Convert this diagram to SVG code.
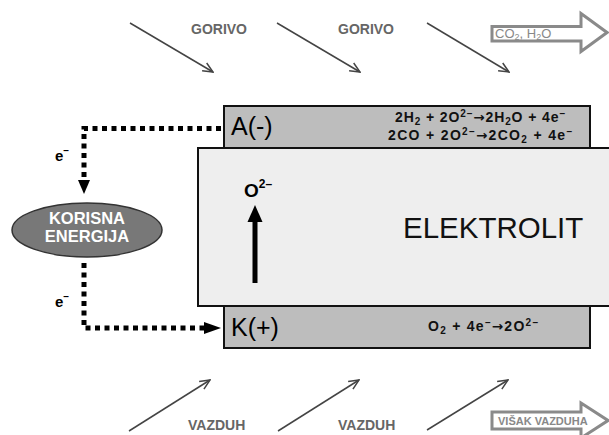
<svg xmlns="http://www.w3.org/2000/svg" width="609" height="435" viewBox="0 0 609 435">
<style>
.sans{font-family:"Liberation Sans",Arial,sans-serif}
.lbl{font-family:"Liberation Sans",Arial,sans-serif;font-weight:bold;font-size:14px;fill:#666}
.eq{font-family:"Liberation Sans",Arial,sans-serif;font-weight:bold;font-size:14px;fill:#111}
.ar{font-family:"DejaVu Sans",sans-serif;font-weight:bold}
.thin{fill:none;stroke:#444;stroke-width:1.5}
.dot{fill:none;stroke:#000;stroke-width:5;stroke-dasharray:5 4.5}
.flow{fill:#fff;stroke:#8a8a8a;stroke-width:3;stroke-linejoin:miter}
</style>
<defs>
<marker id="open" viewBox="0 0 12 12" refX="11" refY="6" markerWidth="12" markerHeight="12" markerUnits="userSpaceOnUse" orient="auto">
<path d="M1,1.5 L11,6 L1,10.5" fill="none" stroke="#444" stroke-width="1.5"/>
</marker>
</defs>
<rect width="609" height="435" fill="#fff"/>

<g id="anode">
<rect x="224" y="106" width="366" height="60" fill="#bdbdbd" stroke="#111" stroke-width="2"/>
<text class="sans" x="231" y="135" font-size="25" fill="#000">A(-)</text>
<text class="eq" x="395" y="122" textLength="170" lengthAdjust="spacing">2H<tspan font-size="10" dy="2.5">2</tspan><tspan dy="-2.5"> + 2O</tspan><tspan font-size="10" dy="-5">2–</tspan><tspan class="ar" font-size="13.5" dy="5">→</tspan><tspan>2H</tspan><tspan font-size="10" dy="2.5">2</tspan><tspan dy="-2.5">O + 4e</tspan><tspan font-size="10" dy="-5">–</tspan></text>
<text class="eq" x="388" y="140" textLength="184" lengthAdjust="spacing">2CO + 2O<tspan font-size="10" dy="-5">2–</tspan><tspan class="ar" font-size="13.5" dy="5">→</tspan><tspan>2CO</tspan><tspan font-size="10" dy="2.5">2</tspan><tspan dy="-2.5"> + 4e</tspan><tspan font-size="10" dy="-5">–</tspan></text>
</g>

<g id="katoda">
<rect x="224" y="290" width="366" height="58" fill="#bdbdbd" stroke="#111" stroke-width="2"/>
<text class="sans" x="231" y="336" font-size="25" fill="#000">K(+)</text>
<text class="eq" x="428" y="331" textLength="110" lengthAdjust="spacing">O<tspan font-size="10" dy="2.5">2</tspan><tspan dy="-2.5"> + 4e</tspan><tspan font-size="10" dy="-5">–</tspan><tspan class="ar" font-size="13.5" dy="5">→</tspan><tspan>2O</tspan><tspan font-size="10" dy="-5">2–</tspan></text>
</g>

<g id="elektrolit">
<rect x="198" y="148" width="430" height="158" fill="#eeeeee" stroke="#111" stroke-width="2"/>
<text class="sans" x="403" y="238" font-size="29.5" fill="#111">ELEKTROLIT</text>
<text class="sans" x="244" y="197" font-size="19" font-weight="bold" fill="#000">O<tspan font-size="12" dy="-9">2–</tspan></text>
<path d="M255,283 L255,220" stroke="#000" stroke-width="5" fill="none"/>
<path d="M247.5,222 L255,205 L262.5,222 Z" fill="#000"/>
</g>

<g id="korisna-energija">
<ellipse cx="87" cy="230" rx="75" ry="27" fill="#787878" stroke="#333" stroke-width="1.5"/>
<text class="sans" x="87" y="224" font-size="16.5" font-weight="bold" fill="#fff" text-anchor="middle">KORISNA</text>
<text class="sans" x="87" y="242" font-size="16.5" font-weight="bold" fill="#fff" text-anchor="middle">ENERGIJA</text>
</g>

<g id="connectors">
<path class="dot" d="M221,128.5 L84,128.5 L84,181"/>
<path d="M78,180 L84,194 L90,180 Z" fill="#000"/>
<path class="dot" d="M84,263 L84,328 L205,328"/>
<path d="M204,322 L221,328 L204,334 Z" fill="#000"/>
<path class="thin" d="M130,23 L213,72" marker-end="url(#open)"/>
<path class="thin" d="M277,23 L360,72" marker-end="url(#open)"/>
<path class="thin" d="M427,23 L509,72" marker-end="url(#open)"/>
<path class="thin" d="M129,431 L210,380" marker-end="url(#open)"/>
<path class="thin" d="M278,431 L359,380" marker-end="url(#open)"/>
<path class="thin" d="M427,430 L508,380" marker-end="url(#open)"/>
</g>

<g id="labels">
<text class="sans" x="55" y="161" font-size="15" font-weight="bold" fill="#000">e<tspan font-size="10" dy="-7">–</tspan></text>
<text class="sans" x="55" y="307" font-size="15" font-weight="bold" fill="#000">e<tspan font-size="10" dy="-7">–</tspan></text>
<text class="lbl" x="191" y="34">GORIVO</text>
<text class="lbl" x="338" y="34">GORIVO</text>
<text class="lbl" x="188" y="430">VAZDUH</text>
<text class="lbl" x="338" y="430">VAZDUH</text>
</g>

<g id="izlaz-gorivo">
<path class="flow" d="M492,26.5 L581,26.5 L581,13.5 L607,32.5 L581,51.5 L581,41 L492,41 Z"/>
<text class="sans" x="495" y="38" font-size="13" fill="#888">CO<tspan font-size="9" dy="2">2</tspan><tspan dy="-2">, H</tspan><tspan font-size="9" dy="2">2</tspan><tspan dy="-2">O</tspan></text>
</g>

<g id="visak-vazduha">
<path class="flow" d="M492,412 L581,412 L581,403 L608,420.5 L581,438 L581,429 L492,429 Z"/>
<text class="sans" x="498" y="425" font-size="11" font-weight="bold" fill="#888">VIŠAK VAZDUHA</text>
</g>
</svg>
